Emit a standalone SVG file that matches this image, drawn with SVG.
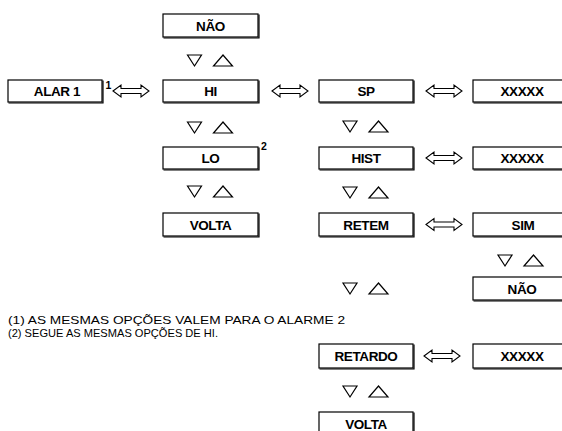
<svg xmlns="http://www.w3.org/2000/svg" width="562" height="431" viewBox="0 0 562 431">
<style>
.box{fill:#fff;stroke:#000;stroke-width:1.2}
.sh{fill:none;stroke:#000;stroke-width:1.2}
.t{font-family:"Liberation Sans",Arial,sans-serif;font-weight:bold;font-size:13.5px;text-anchor:middle;fill:#000;letter-spacing:-0.4px}
.sup{font-family:"Liberation Sans",Arial,sans-serif;font-weight:bold;font-size:10.5px;fill:#000}
.note{font-family:"Liberation Sans",Arial,sans-serif;font-size:11.5px;fill:#000}
.tri{fill:none;stroke:#000;stroke-width:1.2;stroke-linejoin:miter}
.arr{fill:#fff;stroke:#000;stroke-width:1.1;stroke-linejoin:miter}
</style>
<defs>
<path id="dbl" class="arr" d="M0,0 L8,-6 L8,-2.5 L28,-2.5 L28,-6 L36,0 L28,6 L28,2.5 L8,2.5 L8,6 Z"/>
<g id="tris">
<polygon class="tri" points="-23,0 -9,0 -16,11"/>
<polygon class="tri" points="3,11 22,11 12.5,0"/>
</g>
</defs>
<rect width="562" height="431" fill="#fff"/>

<g id="connectors">
<use href="#dbl" x="113" y="91"/>
<use href="#dbl" x="272" y="91"/>
<use href="#dbl" x="426" y="91"/>
<use href="#dbl" x="426" y="158"/>
<use href="#dbl" x="426" y="224.5"/>
<use href="#dbl" x="424" y="356"/>
<use href="#tris" x="210.5" y="55"/>
<use href="#tris" x="210.5" y="122"/>
<use href="#tris" x="210.5" y="186"/>
<use href="#tris" x="366" y="121"/>
<use href="#tris" x="366" y="187"/>
<use href="#tris" x="366" y="283"/>
<use href="#tris" x="366" y="386"/>
<use href="#tris" x="521" y="255"/>
</g>

<g id="alar1"><rect class="box" x="8" y="80" width="94" height="22"/><path class="sh" d="M103,80.5 V103 H8.5"/><text class="t" x="57" y="96">ALAR 1</text><text class="sup" x="105.5" y="89">1</text></g>
<g id="nao1"><rect class="box" x="163" y="14" width="95" height="23"/><path class="sh" d="M259,14.5 V38 H163.5"/><text class="t" x="210.5" y="30.5">NÃO</text></g>
<g id="hi"><rect class="box" x="163" y="80" width="95" height="22"/><path class="sh" d="M259,80.5 V103 H163.5"/><text class="t" x="210.5" y="96">HI</text></g>
<g id="lo"><rect class="box" x="163" y="147" width="95" height="22"/><path class="sh" d="M259,147.5 V170 H163.5"/><text class="t" x="210.5" y="163">LO</text><text class="sup" x="261" y="150">2</text></g>
<g id="volta1"><rect class="box" x="163" y="213" width="95" height="23"/><path class="sh" d="M259,213.5 V237 H163.5"/><text class="t" x="210.5" y="229.5">VOLTA</text></g>

<g id="sp"><rect class="box" x="319" y="80" width="94" height="22"/><path class="sh" d="M414,80.5 V103 H319.5"/><text class="t" x="366" y="96">SP</text></g>
<g id="hist"><rect class="box" x="319" y="147" width="94" height="22"/><path class="sh" d="M414,147.5 V170 H319.5"/><text class="t" x="366" y="163">HIST</text></g>
<g id="retem"><rect class="box" x="319" y="213" width="94" height="23"/><path class="sh" d="M414,213.5 V237 H319.5"/><text class="t" x="366" y="229.5">RETEM</text></g>
<g id="retardo"><rect class="box" x="319" y="344" width="94" height="24"/><path class="sh" d="M414,344.5 V369 H319.5"/><text class="t" x="366" y="361">RETARDO</text></g>
<g id="volta2"><rect class="box" x="319" y="412" width="94" height="26"/><path class="sh" d="M414,412.5 V439"/><text class="t" x="366" y="429">VOLTA</text></g>

<g id="xxxxx1"><rect class="box" x="473" y="80" width="98" height="22"/><path class="sh" d="M473.5,103 H571"/><text class="t" x="522" y="96">XXXXX</text></g>
<g id="xxxxx2"><rect class="box" x="473" y="147" width="98" height="22"/><path class="sh" d="M473.5,170 H571"/><text class="t" x="522" y="163">XXXXX</text></g>
<g id="sim"><rect class="box" x="473" y="213" width="98" height="23"/><path class="sh" d="M473.5,237 H571"/><text class="t" x="523" y="229.5">SIM</text></g>
<g id="nao2"><rect class="box" x="473" y="277" width="98" height="23"/><path class="sh" d="M473.5,301 H571"/><text class="t" x="522" y="293.5">NÃO</text></g>
<g id="xxxxx3"><rect class="box" x="473" y="344" width="98" height="24"/><path class="sh" d="M473.5,369 H571"/><text class="t" x="522" y="361">XXXXX</text></g>

<g id="notes">
<text class="note" x="8" y="323.5" textLength="337" lengthAdjust="spacingAndGlyphs">(1) AS MESMAS OPÇÕES VALEM PARA O ALARME 2</text>
<text class="note" x="8" y="337" textLength="210" lengthAdjust="spacingAndGlyphs">(2) SEGUE AS MESMAS OPÇÕES DE HI.</text>
</g>
</svg>
